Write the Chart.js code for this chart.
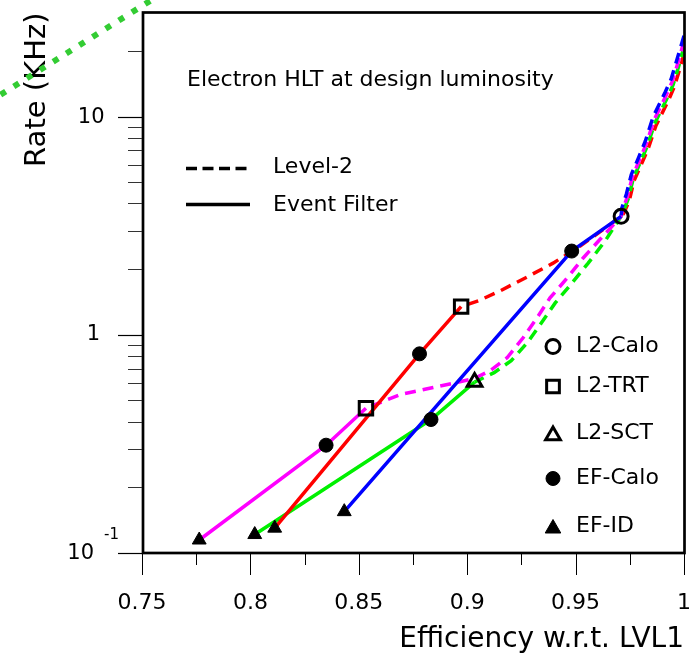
<!DOCTYPE html>
<html>
<head>
<meta charset="utf-8">
<script src="https://cdn.jsdelivr.net/npm/chart.js@4/dist/chart.umd.min.js"></script>
<style>
html,body{margin:0;padding:0;background:#fff;}
#wrap{width:698px;height:657px;position:relative;}
</style>
</head>
<body>
<div id="wrap"><canvas id="c"></canvas></div>
<script>
// ---------- data (efficiency w.r.t. LVL1, rate in kHz) ----------
// Level-2 curves (dashed)
const blueL2Eff  = [1.0, 0.9974, 0.9941, 0.9914, 0.9858, 0.9821, 0.9789, 0.9757, 0.9734, 0.9713, 0.9710];
const blueL2Rate = [23.5, 19.2, 14.9, 13.0, 10.0, 7.69, 6.43, 5.43, 4.41, 3.80, 3.49];

const magentaL2Eff  = [1.0, 0.9979, 0.9946, 0.9919, 0.9863, 0.9826, 0.9794, 0.9762, 0.9739, 0.9716, 0.9710,
                       0.9613, 0.9535, 0.9461, 0.9382, 0.9322, 0.9258, 0.9184, 0.9106, 0.9032, 0.8843, 0.8691, 0.8533];
const magentaL2Rate = [22.3, 18.6, 14.5, 12.6, 9.7, 7.5, 6.3, 5.3, 4.3, 3.72, 3.49,
                       2.74, 2.25, 1.82, 1.476, 1.196, 0.969, 0.785, 0.685, 0.630, 0.573, 0.532, 0.461];

const greenL2Eff  = [1.0, 0.9983, 0.9950, 0.9923, 0.9867, 0.9830, 0.9798, 0.9766, 0.9743, 0.9719, 0.9710,
                     0.9636, 0.9558, 0.9484, 0.9406, 0.9341, 0.9277, 0.9203, 0.9124, 0.9034];
const greenL2Rate = [21.0, 18.0, 14.0, 12.2, 9.4, 7.3, 6.15, 5.2, 4.2, 3.65, 3.49,
                     2.69, 2.13, 1.73, 1.40, 1.13, 0.919, 0.761, 0.671, 0.607];

const redL2Eff  = [1.0, 0.9987, 0.9954, 0.9927, 0.9871, 0.9834, 0.9802, 0.9770, 0.9747, 0.9722, 0.9710,
                   0.9636, 0.9521, 0.9396, 0.9276, 0.9152, 0.9051, 0.8972];
const redL2Rate = [19.5, 17.3, 13.6, 11.8, 9.1, 7.1, 6.0, 5.1, 4.1, 3.6, 3.49,
                   3.08, 2.55, 2.13, 1.84, 1.59, 1.43, 1.346];

// Event Filter curves (solid)
const blueEFEff     = [0.9710, 0.9482, 0.8433];
const blueEFRate    = [3.49, 2.42, 0.1547];
const redEFEff      = [0.8972, 0.8780, 0.8112];
const redEFRate     = [1.346, 0.818, 0.130];
const greenEFEff    = [0.9034, 0.8833, 0.8020];
const greenEFRate   = [0.607, 0.409, 0.1215];
const magentaEFEff  = [0.8533, 0.8349, 0.7764];
const magentaEFRate = [0.461, 0.312, 0.1147];

// Markers
const l2CaloEff  = [0.9710];
const l2CaloRate = [3.49];
const l2TrtEff   = [0.8972, 0.8533];
const l2TrtRate  = [1.346, 0.461];
const l2SctEff   = [0.9034];
const l2SctRate  = [0.607];
const efCaloEff  = [0.9482, 0.8780, 0.8833, 0.8349];
const efCaloRate = [2.42, 0.818, 0.409, 0.312];
const efIdEff    = [0.8433, 0.8112, 0.8020, 0.7764];
const efIdRate   = [0.1547, 0.130, 0.1215, 0.1147];

// stray dotted green line in the top-left corner (outside the frame)
const strayEff  = [0.6848, 0.7631];
const strayRate = [12.6, 38.8];

// Axis ticks
const yMajorTicks  = [0.1, 1, 10];
const yMinorTicks  = [0.2, 0.3, 0.4, 0.5, 0.6, 0.7, 0.8, 0.9, 2, 3, 4, 5, 6, 7, 8, 9, 20];
const xLabelTicks  = ['0.75', '0.8', '0.85', '0.9', '0.95', '1'];

const markerLegend = ['L2-Calo', 'L2-TRT', 'L2-SCT', 'EF-Calo', 'EF-ID'];
const lineLegend   = ['Level-2', 'Event Filter'];
const plotTitle    = 'Electron HLT at design luminosity';

// ---------- helpers ----------
const FONT = '"DejaVu Sans", sans-serif';
const pts = (xs, ys) => xs.map((v, i) => ({x: v, y: ys[i]}));
const RED = '#ff0000', BLUE = '#0000ff', GREEN = '#00f000', MAGENTA = '#ff00ff';

function lineDs(xs, ys, color, dashed) {
  return {
    data: pts(xs, ys), showLine: true, borderColor: color, borderWidth: 3.5,
    borderDash: dashed ? [11, 7] : [], pointRadius: 0, pointHoverRadius: 0,
    tension: 0, order: 2, fill: false
  };
}
function markerDs(xs, ys, style, radius, filled) {
  return {
    data: pts(xs, ys), showLine: false, pointStyle: style, pointRadius: radius,
    pointHoverRadius: radius, pointBorderWidth: filled ? 1 : 3, borderWidth: filled ? 1 : 3,
    pointBorderColor: '#000', borderColor: '#000',
    pointBackgroundColor: filled ? '#000' : 'rgba(0,0,0,0)',
    backgroundColor: filled ? '#000' : 'rgba(0,0,0,0)', order: 0
  };
}

function shape(ctx, style, r, x, y, filled) {
  ctx.beginPath();
  if (style === 'circle') {
    ctx.arc(x, y, r, 0, Math.PI * 2);
  } else if (style === 'rect') {
    const s = Math.SQRT1_2 * r;
    ctx.rect(x - s, y - s, 2 * s, 2 * s);
  } else if (style === 'triangle') {
    ctx.moveTo(x, y - r);
    ctx.lineTo(x + Math.sin(2 * Math.PI / 3) * r, y + r / 2);
    ctx.lineTo(x - Math.sin(2 * Math.PI / 3) * r, y + r / 2);
  }
  ctx.closePath();
  ctx.fillStyle = '#000';
  ctx.strokeStyle = '#000';
  if (filled) { ctx.lineWidth = 1; ctx.fill(); ctx.stroke(); }
  else { ctx.lineWidth = 3; ctx.stroke(); }
}

const decor = {
  id: 'decor',
  afterDatasetsDraw(chart) {
    const {ctx, chartArea: a, scales} = chart;
    const xs = scales.x, ys = scales.y;
    ctx.save();
    // frame
    ctx.strokeStyle = '#000';
    ctx.lineWidth = 2.7;
    ctx.strokeRect(a.left + 1, a.top, a.right - a.left - 0.5, a.bottom - a.top);

    // y ticks
    ctx.lineWidth = 1.2;
    const hline = (x0, x1, yy) => { ctx.beginPath(); ctx.moveTo(x0, yy); ctx.lineTo(x1, yy); ctx.stroke(); };
    const vline = (xx, y0, y1) => { ctx.beginPath(); ctx.moveTo(xx, y0); ctx.lineTo(xx, y1); ctx.stroke(); };
    yMajorTicks.forEach(v => hline(a.left - 24, a.left, Math.round(ys.getPixelForValue(v)) + 0.5));
    ctx.strokeStyle = '#333';
    ctx.lineWidth = 1;
    yMinorTicks.forEach(v => hline(a.left - 14, a.left, Math.round(ys.getPixelForValue(v)) + 0.5));
    // x ticks
    ctx.strokeStyle = '#000';
    xs.ticks.forEach(t => {
      const major = Math.round(t.value * 1000) % 50 === 0;
      const px = Math.round(xs.getPixelForValue(t.value)) + 0.5;
      vline(px, a.bottom, a.bottom + (major ? 22 : 12));
    });

    // y tick labels
    ctx.fillStyle = '#000';
    ctx.textBaseline = 'middle';
    ctx.textAlign = 'right';
    ctx.font = '21px ' + FONT;
    ctx.fillText('10', a.left - 37.5, ys.getPixelForValue(yMajorTicks[2]) + 1);
    ctx.fillText('1', a.left - 42, ys.getPixelForValue(yMajorTicks[1]) + 0);
    ctx.fillText('10', a.left - 48, ys.getPixelForValue(yMajorTicks[0]) + 1);
    ctx.font = '15px ' + FONT;
    ctx.textAlign = 'left';
    ctx.fillText('-1', a.left - 38, ys.getPixelForValue(yMajorTicks[0]) - 18);

    // title inside the frame
    ctx.font = '22px ' + FONT;
    ctx.fillText(plotTitle, a.left + 45, a.top + 68);

    // line-style legend
    ctx.strokeStyle = '#000';
    ctx.lineWidth = 3.5;
    ctx.setLineDash([11, 5.5]);
    hline(a.left + 44, a.left + 108, a.top + 156);
    ctx.setLineDash([]);
    hline(a.left + 44, a.left + 108, a.top + 192);
    ctx.fillText(lineLegend[0], a.left + 131, a.top + 155);
    ctx.fillText(lineLegend[1], a.left + 131, a.top + 193);

    // marker legend
    const mStyles = [['circle', 7, false], ['rect', 9, false], ['triangle', 8.5, false], ['circle', 7, true], ['triangle', 9, true]];
    const mY = [345, 385, 432, 477, 525];
    markerLegend.forEach((txt, i) => {
      const yy = a.top + (mY[i] - 11);
      shape(ctx, mStyles[i][0], mStyles[i][1], a.left + 411, yy + (mStyles[i][0] === 'triangle' ? 2 : 0), mStyles[i][2]);
      ctx.fillStyle = '#000';
      ctx.font = '22px ' + FONT;
      ctx.textAlign = 'left';
      ctx.textBaseline = 'middle';
      ctx.fillText(txt, a.left + 434, yy);
    });
    ctx.restore();
  }
};

Chart.defaults.color = '#000';
Chart.defaults.font.family = FONT;

new Chart(document.getElementById('c'), {
  type: 'scatter',
  data: {
    datasets: [
      markerDs(l2CaloEff, l2CaloRate, 'circle', 7, false),
      markerDs(l2TrtEff, l2TrtRate, 'rect', 9.5, false),
      markerDs(l2SctEff, l2SctRate, 'triangle', 8.5, false),
      markerDs(efCaloEff, efCaloRate, 'circle', 7, true),
      markerDs(efIdEff, efIdRate, 'triangle', 8, true),
      lineDs(blueEFEff, blueEFRate, BLUE, false),
      lineDs(redEFEff, redEFRate, RED, false),
      lineDs(greenEFEff, greenEFRate, GREEN, false),
      lineDs(magentaEFEff, magentaEFRate, MAGENTA, false),
      lineDs(blueL2Eff, blueL2Rate, BLUE, true),
      lineDs(magentaL2Eff, magentaL2Rate, MAGENTA, true),
      lineDs(greenL2Eff, greenL2Rate, GREEN, true),
      lineDs(redL2Eff, redL2Rate, RED, true),
      Object.assign(lineDs(strayEff, strayRate, '#33cc33', true), {borderDash: [6, 9.5], borderWidth: 6, clip: false, borderCapStyle: 'butt'})
    ]
  },
  options: {
    responsive: true,
    maintainAspectRatio: false,
    animation: false,
    events: [],
    layout: {padding: {left: 0, right: 14, top: 11, bottom: 0}},
    plugins: {legend: {display: false}, tooltip: {enabled: false}},
    scales: {
      x: {
        type: 'linear', min: 0.75, max: 1,
        grid: {display: true, drawOnChartArea: false, drawTicks: true, tickLength: 37, tickColor: 'rgba(0,0,0,0)', color: 'rgba(0,0,0,0)'},
        border: {display: false},
        ticks: {
          stepSize: 0.025, autoSkip: false, maxRotation: 0, padding: 0,
          font: {size: 22, family: FONT}, color: '#000',
          callback: (v) => {
            const k = Math.round(v * 1000);
            if (k % 50 !== 0) return '';
            return xLabelTicks[(k - 750) / 50];
          }
        },
        title: {display: true, text: 'Efficiency w.r.t. LVL1', align: 'end', font: {size: 28, family: FONT}, color: '#000', padding: {top: 0, bottom: 0}},
        afterFit: (s) => { s.height = 104; s.paddingRight = 0; s.paddingLeft = 0; }
      },
      y: {
        type: 'logarithmic', min: 0.1, max: 30,
        grid: {display: false}, border: {display: false},
        ticks: {display: false, padding: 0},
        title: {display: true, text: 'Rate (KHz)', align: 'end', font: {size: 29, family: FONT}, color: '#000', padding: {top: 20, bottom: 0}},
        afterFit: (s) => { s.width = 142; s.paddingTop = 0; s.paddingBottom = 0; }
      }
    }
  },
  plugins: [decor]
});
</script>
</body>
</html>
